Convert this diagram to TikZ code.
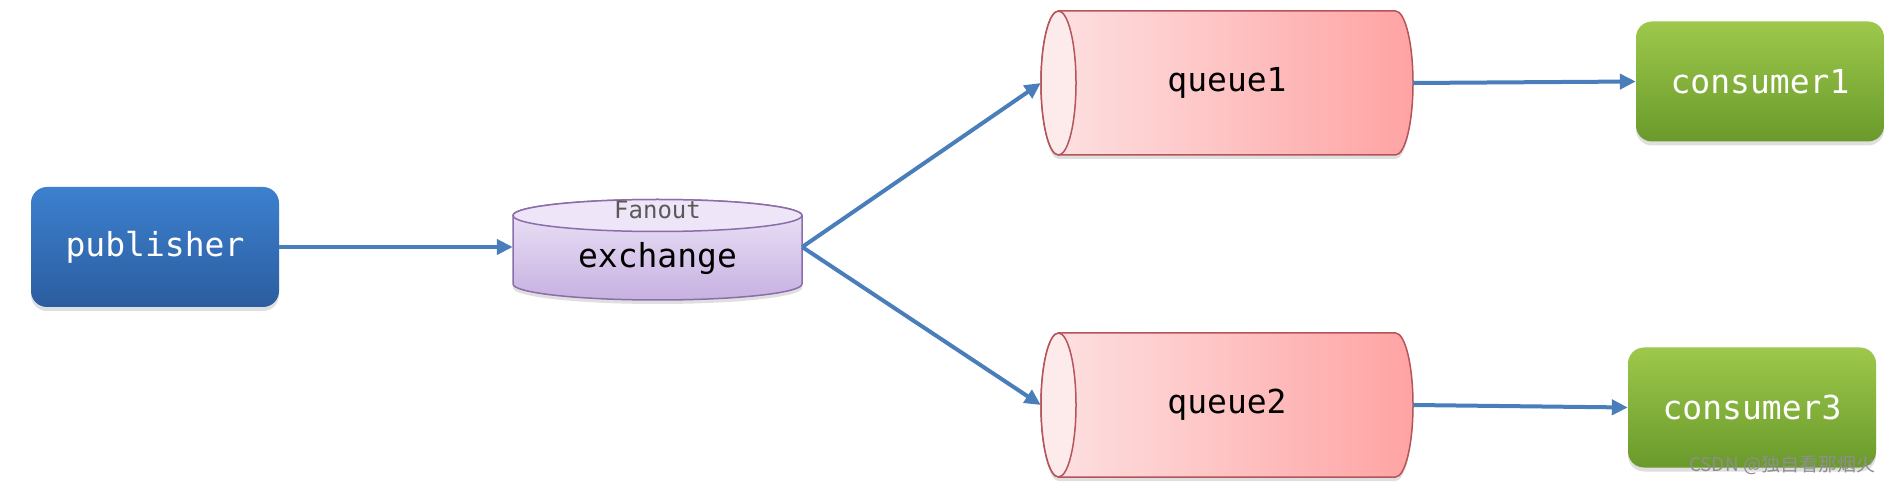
\documentclass[tikz,border=0pt]{standalone}
\usepackage{fontspec}
\setmonofont{DejaVu Sans Mono}
\newfontfamily\cjk{Noto Sans CJK SC}
\usetikzlibrary{arrows.meta,shadows}
\definecolor{pubtop}{HTML}{3D80CF}
\definecolor{pubbot}{HTML}{2B5D9F}
\definecolor{contop}{HTML}{9DC84B}
\definecolor{conbot}{HTML}{6A9A2B}
\definecolor{extop}{HTML}{EEE6F8}
\definecolor{exbot}{HTML}{C7B1E1}
\definecolor{exline}{HTML}{8B6DAA}
\definecolor{qleft}{HTML}{FDE2E3}
\definecolor{qright}{HTML}{FFA3A3}
\definecolor{qline}{HTML}{B5545A}
\definecolor{qend}{HTML}{FDEBEC}
\definecolor{arrowblue}{HTML}{4A7EBB}
\definecolor{markgray}{HTML}{8E8E8E}

\begin{document}
\begin{tikzpicture}[x=1pt, y=1pt, >={Triangle[length=16pt,width=15pt]},
    shade/.style={drop shadow={shadow xshift=0pt, shadow yshift=-4pt, opacity=.25}},
    big/.style={font=\fontsize{33}{40}\selectfont\ttfamily},
    pubbox/.style={big, shade, rounded corners=16pt, minimum width=248pt, minimum height=120pt,
        top color=pubtop, bottom color=pubbot, text=white},
    conbox/.style={big, shade, rounded corners=16pt, minimum width=248pt, minimum height=120pt,
        top color=contop, bottom color=conbot, text=white},
    qbody/.style={shade, left color=qleft, right color=qright, draw=qline, line width=1.5pt},
    qface/.style={draw=qline, fill=qend, line width=1.5pt},
    qbox/.style={big, minimum width=372pt, minimum height=144pt, inner sep=0pt},
    exbody/.style={shade, top color=extop, bottom color=exbot, draw=exline, line width=1.5pt},
    exface/.style={draw=exline, fill=extop, line width=1.5pt},
    exbox/.style={minimum width=289pt, minimum height=80pt, inner sep=0pt},
    small/.style={font=\fontsize{24}{28}\selectfont\ttfamily, text=black!65},
    flow/.style={draw=arrowblue, line width=4pt},
    wmark/.style={font=\fontsize{19}{22}\selectfont\cjk, text=markgray}]
\useasboundingbox (0,0) rectangle (1893,485);

\foreach \y in {402,80}
{
    \path[qbody] (1058.5,\y+72) -- (1395.5,\y+72) arc[start angle=90, end angle=-90, x radius=17.5, y radius=72]
        -- (1058.5,\y-72) arc[start angle=270, end angle=90, x radius=17.5, y radius=72] -- cycle;
    \draw[qface] (1058.5,\y) ellipse[x radius=17.5, y radius=72];
}

\path[exbody] (513,269.5) -- (513,201) arc[start angle=180, end angle=360, x radius=144.5, y radius=16]
    -- (802,269.5) arc[start angle=0, end angle=180, x radius=144.5, y radius=16] -- cycle;
\draw[exface] (657.5,269.5) ellipse[x radius=144.5, y radius=16];

\node[pubbox] (pub) at (155,238) {publisher};
\node[exbox] (ex) at (657.5,238) {};
\node[small] (fanout) at (657.5,275.5) {Fanout};
\node[big] (exname) at (657.5,226) {exchange};
\node[qbox] (q1) at (1227,402) {queue1};
\node[qbox] (q2) at (1227,80) {queue2};
\node[conbox] (c1) at (1760,403.5) {consumer1};
\node[conbox] (c3) at (1752,77.5) {consumer3};

\draw[flow,->] (pub.east) -- (ex.west);
\draw[flow,->] (ex.east) -- (q1.west);
\draw[flow,->] (ex.east) -- (q2.west);
\draw[flow,->] (q1.east) -- (c1.west);
\draw[flow,->] (q2.east) -- (c3.west);

\node[wmark] (mark) at (1782,20) {CSDN @独自看那烟火};

\end{tikzpicture}
\end{document}
